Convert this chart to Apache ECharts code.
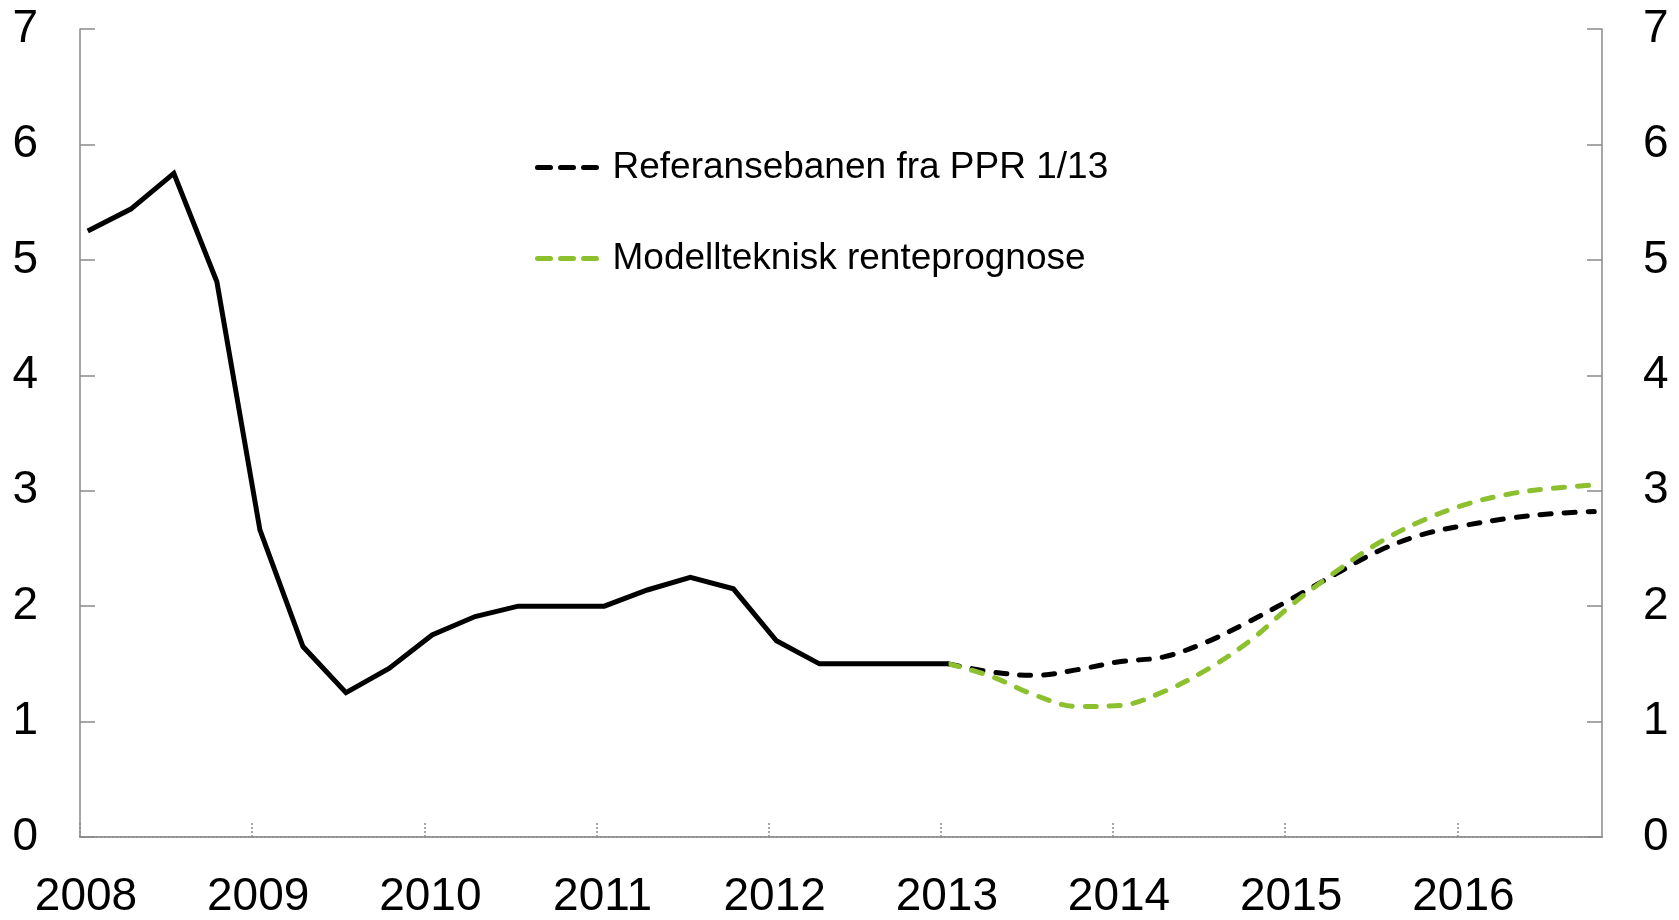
<!DOCTYPE html>
<html>
<head>
<meta charset="utf-8">
<script src="https://cdn.jsdelivr.net/npm/echarts@6/dist/echarts.min.js"></script>
<style>
  html, body { margin: 0; padding: 0; background: #fff; }
  #chart { width: 1679px; height: 920px; }
</style>
</head>
<body>
<div id="chart"></div>
<script>
// quarterly observations 2008 K1 - 2016 K4
const quarters = [
  '2008K1', '2008K2', '2008K3', '2008K4', '2009K1', '2009K2', '2009K3', '2009K4',
  '2010K1', '2010K2', '2010K3', '2010K4', '2011K1', '2011K2', '2011K3', '2011K4',
  '2012K1', '2012K2', '2012K3', '2012K4', '2013K1', '2013K2', '2013K3', '2013K4',
  '2014K1', '2014K2', '2014K3', '2014K4', '2015K1', '2015K2', '2015K3', '2015K4',
  '2016K1', '2016K2', '2016K3', '2016K4',
];
const historyValues = [
  5.25, 5.44, 5.75, 4.81, 2.66, 1.65, 1.25, 1.46, 1.75, 1.91, 2.0,
  2.0, 2.0, 2.14, 2.25, 2.15, 1.70, 1.50, 1.50, 1.50, 1.50,
];
// forecasts start at 2013 K1
const referenceValues = [1.50, 1.43, 1.40, 1.45, 1.52, 1.56, 1.69, 1.87, 2.07, 2.28, 2.48, 2.62, 2.70, 2.76, 2.80, 2.82];
const modelValues = [1.50, 1.39, 1.23, 1.13, 1.14, 1.26, 1.45, 1.70, 2.02, 2.30, 2.55, 2.74, 2.88, 2.97, 3.02, 3.05];
const FORECAST_START = 20;
const REFERENCE_NAME = 'Referansebanen fra PPR 1/13';
const MODEL_NAME = 'Modellteknisk renteprognose';

const FONT = 'Liberation Sans, Arial, sans-serif';
const AXIS_GREY = '#8a8a8a';
const GREEN = '#8dc02f';

const quarterToYear = (label) => {
  const year = Number(label.slice(0, 4));
  const q = Number(label.slice(5));
  return year + (q - 1) / 4 + 0.045;
};

const toPoints = (values, offset) => values.map((v, i) => [quarterToYear(quarters[offset + i]), v]);

const yAxisBase = {
  type: 'value',
  min: 0,
  max: 7,
  interval: 1,
  splitLine: { show: false },
  axisLine: { show: true, lineStyle: { color: AXIS_GREY, width: 1.5 } },
  axisTick: { show: true, inside: true, length: 15, lineStyle: { color: AXIS_GREY, width: 1.5 } },
};

const legendBase = {
  orient: 'horizontal',
  left: 535,
  padding: 0,
  itemWidth: 70,
  itemHeight: 14,
  textStyle: { fontFamily: FONT, fontSize: 37, color: '#000' },
  itemStyle: { opacity: 0 },
  lineStyle: { width: 5, type: [13, 10, 13, 10, 13, 11], cap: 'round' },
};

const chart = echarts.init(document.getElementById('chart'), null, { renderer: 'canvas' });
chart.setOption({
  animation: false,
  backgroundColor: '#fff',
  grid: { left: 80, right: 77, top: 29, bottom: 79, containLabel: false },
  legend: [
    { ...legendBase, top: 149, data: [REFERENCE_NAME] },
    { ...legendBase, top: 240, data: [MODEL_NAME] },
  ],
  xAxis: [
    {
      type: 'value',
      min: 2008,
      max: 2016.84,
      interval: 1,
      splitLine: { show: false },
      axisLine: { show: true, onZero: false, lineStyle: { color: AXIS_GREY, width: 1.5, type: [2, 2] } },
      axisTick: { show: true, inside: true, length: 14, lineStyle: { color: AXIS_GREY, width: 1.5, type: [2, 2] } },
      axisLabel: {
        fontFamily: FONT,
        fontSize: 46,
        color: '#000',
        margin: 37,
        padding: [0, 0, 0, 12],
        showMaxLabel: false,
        formatter: (v) => (Number.isInteger(v) ? String(v) : ''),
      },
    },
    {
      type: 'value',
      position: 'top',
      min: 2008,
      max: 2016.84,
      splitLine: { show: false },
      axisLine: { show: true, lineStyle: { color: AXIS_GREY, width: 1.5 } },
      axisTick: { show: false },
      axisLabel: { show: false },
    },
  ],
  yAxis: [
    {
      ...yAxisBase,
      position: 'left',
      axisLabel: { fontFamily: FONT, fontSize: 46, color: '#000', margin: 42 },
    },
    {
      ...yAxisBase,
      position: 'right',
      axisLabel: { fontFamily: FONT, fontSize: 46, color: '#000', margin: 41 },
    },
  ],
  series: [
    {
      name: REFERENCE_NAME,
      type: 'line',
      data: toPoints(referenceValues, FORECAST_START),
      symbol: 'none',
      smooth: 0.35,
      color: '#000',
      lineStyle: { color: '#000', width: 5, type: [11, 13], cap: 'round' },
      z: 2,
    },
    {
      name: MODEL_NAME,
      type: 'line',
      data: toPoints(modelValues, FORECAST_START),
      symbol: 'none',
      smooth: 0.35,
      color: GREEN,
      lineStyle: { color: GREEN, width: 5, type: [11, 13], cap: 'round' },
      z: 3,
    },
    {
      name: 'Historikk',
      type: 'line',
      data: toPoints(historyValues, 0),
      symbol: 'none',
      color: '#000',
      lineStyle: { color: '#000', width: 5, join: 'miter' },
      z: 4,
    },
  ],
});
</script>
</body>
</html>
